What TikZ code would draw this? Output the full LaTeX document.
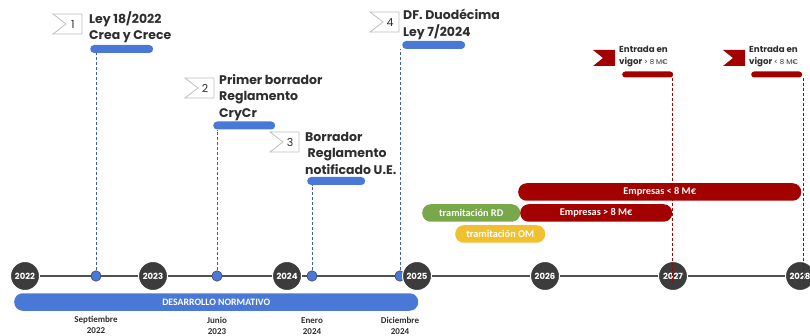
\documentclass[tikz,border=0pt]{standalone}
\usepackage{fontspec}
\setmainfont{Carlito}
\newfontfamily\pop{Poppins}
\usetikzlibrary{backgrounds}
\definecolor{azul}{HTML}{4A78D6}
\definecolor{rojo}{HTML}{A30000}
\definecolor{verde}{HTML}{79A74B}
\definecolor{amarillo}{HTML}{F0C02F}
\definecolor{gris}{HTML}{3C3C3C}
\definecolor{texto}{HTML}{2E2E2E}
\tikzset{
  anio/.style={circle,fill=gris,draw=white,line width=1pt,minimum size=29pt,inner sep=0pt,
    text=white,font=\pop\bfseries\fontsize{8.5}{9}\selectfont},
  hito/.style={circle,fill=azul,draw=gris,line width=0.5pt,minimum size=10.5pt,inner sep=0pt},
  titulo/.style={anchor=north west,align=left,inner sep=0pt,text=texto,
    font=\pop\bfseries\fontsize{12.5}{16.5}\selectfont},
  fecha/.style={align=center,inner sep=0pt,text=texto,font=\bfseries\fontsize{9}{11.5}\selectfont},
  barrita/.style={fill=azul,rounded corners=4pt,minimum height=8pt,inner sep=0pt,anchor=west},
  barrarroja/.style={fill=rojo,rounded corners=3pt,minimum height=6pt,inner sep=0pt,anchor=west},
  barra/.style={rounded corners=8.5pt,minimum height=17.5pt,inner sep=0pt,anchor=west,
    text=white,font=\bfseries\fontsize{10.3}{11}\selectfont},
  guia/.style={azul!80!black,line width=0.7pt,dash pattern=on 3pt off 2pt},
  guiaroja/.style={rojo,line width=0.7pt,dash pattern=on 3pt off 2pt},
  vigor/.style={anchor=north west,align=left,inner sep=0pt,text=texto,
    font=\pop\bfseries\fontsize{8.7}{11.5}\selectfont}
}
\begin{document}
\begin{tikzpicture}[x=1pt,y=-1pt]
\useasboundingbox (0,0) rectangle (810,336);

% hitos sobre la linea
\node[hito] (sep) at (96,276) {};
\node[hito] (jun) at (217,276) {};
\node[hito] (ene) at (312,276) {};
\node[hito] (dic) at (400,276) {};

% anios
\foreach \a/\x in {2022/25,2023/153,2024/287,2025/417,2026/545,2027/673,2028/800}
  \node[anio] (a\a) at (\x,276) {\a};
\begin{pgfonlayer}{background}
  \draw[gris!90,line width=1.3pt] (a2022.center) -- (a2028.center);
\end{pgfonlayer}

% desarrollo normativo
\node[barra,fill=azul,minimum width=404pt,font=\bfseries\fontsize{9.8}{10}\selectfont] (dn) at (14,302) {DESARROLLO NORMATIVO};
\node[fecha] (fsep) at (96,325) {Septiembre\\2022};
\node[fecha] (fjun) at (217,326) {Junio\\2023};
\node[fecha] (fene) at (312,326) {Enero\\2024};
\node[fecha] (fdic) at (400,326) {Diciembre\\2024};

% etiquetas numeradas
\foreach \n/\cx/\cy in {1/53/14,2/185/78,3/270/132,4/370/12} {
  \draw[gray!50,fill=white,line width=0.8pt] (\cx,\cy) -- (\cx+29,\cy) -- (\cx+29,\cy+20)
    -- (\cx,\cy+20) -- (\cx+13,\cy+10) -- cycle;
  \node[text=texto,font=\pop\fontsize{11}{12}\selectfont] (n\n) at (\cx+20,\cy+10.5) {\n};
}
\node[titulo] (t1) at (89,11) {Ley 18/2022\\Crea y Crece};
\node[titulo] (t2) at (219,74) {Primer borrador\\Reglamento\\CryCr};
\node[titulo] (t3) at (305,132) {Borrador\\\hspace{2.5pt}Reglamento\\notificado U.E.};
\node[titulo] (t4) at (403,9) {DF. Duodécima\\Ley 7/2024};

\node[barrita,minimum width=63pt] (b1) at (90,49) {};
\node[barrita,minimum width=62pt] (b2) at (213,125.5) {};
\node[barrita,minimum width=58pt] (b3) at (307,181) {};
\node[barrita,minimum width=63pt] (b4) at (402,45) {};

\draw[guia] (sep) -- (sep |- b1.south);
\draw[guia] (jun) -- (jun |- b2.south);
\draw[guia] (ene) -- (ene |- b3.south);
\draw[guia] (dic) -- (dic |- b4.south);

% entrada en vigor
\foreach \fx in {593,723}
  \fill[rojo] (\fx,50) -- (\fx+22,50) -- (\fx+22,66) -- (\fx,66) -- (\fx+10,58) -- cycle;
\node[vigor] (v1) at (619,46) {Entrada en\\vigor {\fontsize{7}{7}\selectfont\mdseries > 8 M€}};
\node[vigor] (v2) at (749,46) {Entrada en\\vigor {\fontsize{7}{7}\selectfont\mdseries < 8 M€}};
\node[barrarroja,minimum width=51pt] (r1) at (622,74.5) {};
\node[barrarroja,minimum width=51pt] (r2) at (751,74.5) {};
\coordinate (f1) at (672,283);
\coordinate (f2) at (803,285);
\draw[guiaroja] (r1.south east) ++(-1,0) coordinate (i1) (i1) -- (i1 |- f1);
\draw[guiaroja] (r2.south east) ++(1,0) coordinate (i2) (i2) -- (i2 |- f2);

% tramitacion y empresas
\node[barra,fill=rojo,minimum width=283pt] (pq) at (518,192) {Empresas < 8 M€};
\node[barra,fill=verde,minimum width=98pt] (rd) at (422,213) {tramitación RD};
\node[barra,fill=rojo,minimum width=152pt] (gr) at (520,213) {Empresas > 8 M€};
\node[barra,fill=amarillo,minimum width=90pt] (om) at (455,234) {tramitación OM};
\end{tikzpicture}
\end{document}
